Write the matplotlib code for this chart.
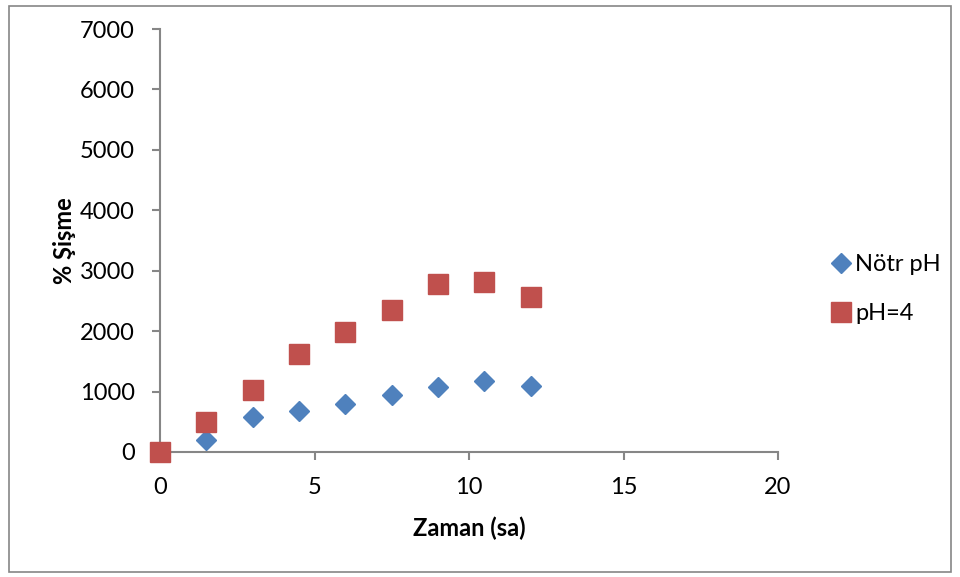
import matplotlib.pyplot as plt
from matplotlib.patches import Rectangle

# Zaman (sa)
zaman = [0, 1.5, 3, 4.5, 6, 7.5, 9, 10.5, 12]
# % Şişme
notr_ph = [0, 195, 575, 685, 795, 940, 1078, 1180, 1098]
ph_4 = [0, 500, 1032, 1620, 1990, 2358, 2772, 2808, 2568]

xticks = [0, 5, 10, 15, 20]
yticks = [0, 1000, 2000, 3000, 4000, 5000, 6000, 7000]

plt.rcParams['font.family'] = ['Lato', 'DejaVu Sans']

fig = plt.figure(figsize=(9.6, 5.77), dpi=100)
ax = fig.add_axes([160 / 960, 1 - 452 / 577, 618 / 960, 423 / 577])

ax.plot(zaman, notr_ph, linestyle='none', marker='D', markersize=10,
        color='#4F81BD', label='Nötr pH', clip_on=False, zorder=3)
ax.plot(zaman, ph_4, linestyle='none', marker='s', markersize=14,
        color='#C0504D', label='pH=4', clip_on=False, zorder=3)

ax.set_xlim(0, 20)
ax.set_ylim(0, 7000)
ax.set_xticks(xticks)
ax.set_yticks(yticks)

for side in ['top', 'right']:
    ax.spines[side].set_visible(False)
for side in ['left', 'bottom']:
    ax.spines[side].set_color('#868686')
    ax.spines[side].set_linewidth(1.5)
ax.tick_params(colors='#868686', width=1.5, length=6, labelsize=17,
               labelcolor='black')
ax.tick_params(axis='x', pad=12)
ax.tick_params(axis='y', pad=12)

ax.set_xlabel('Zaman (sa)', fontsize=17, fontweight='bold', labelpad=13)
ax.set_ylabel('% Şişme', fontsize=17, fontweight='bold', labelpad=3)

ax.legend(loc='center left', bbox_to_anchor=(1.045, 0.385), frameon=False,
          fontsize=17, handletextpad=0.0, labelspacing=1.2, handlelength=1.2)

# dış çerçeve
fig.patches.append(Rectangle((9 / 960, 5 / 577), 942 / 960, 566 / 577,
                             transform=fig.transFigure, fill=False,
                             edgecolor='#868686', linewidth=1.2))

fig.savefig('out.png', dpi=100)
